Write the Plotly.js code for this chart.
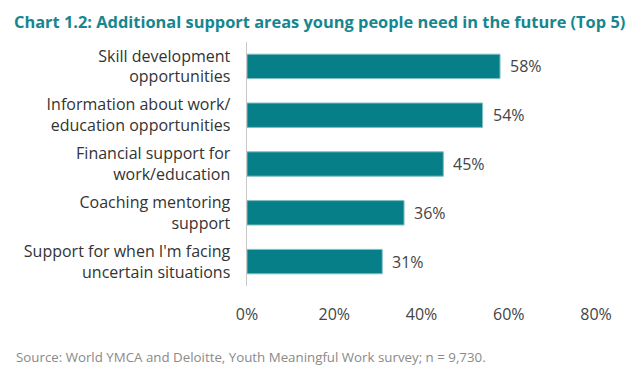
<!DOCTYPE html>
<html>
<head>
<meta charset="utf-8">
<script src="https://cdn.plot.ly/plotly-3.0.1.min.js"></script>
<style>html,body{margin:0;padding:0;background:#fff;}#chart{width:640px;height:378px;}</style>
</head>
<body>
<div id="chart"></div>
<script>
const categories = [
  "Skill development<br>opportunities",
  "Information about work/<br>education opportunities",
  "Financial support for<br>work/education",
  "Coaching mentoring<br>support",
  "Support for when I'm facing<br>uncertain situations"
];
const values = [58, 54, 45, 36, 31];
const tickValues = [0, 20, 40, 60, 80];
const tickLabels = ["0%", "20%", "40%", "60%", "80%"];
const titleText = "Chart 1.2: Additional support areas young people need in the future (Top 5)";
const sourceText = "Source: World YMCA and Deloitte, Youth Meaningful Work survey; n = 9,730.";

const L = 247, R = 44, T = 42, B = 92, W = 640, H = 378;
const plotW = W - L - R;

const trace = {
  type: 'bar',
  orientation: 'h',
  x: values,
  y: categories,
  width: 0.5,
  marker: {color: '#077f89', line: {color: '#7fbfc4', width: 1}},
  hoverinfo: 'none'
};

const labelAnnotations = values.map((v, i) => ({
  x: v, y: categories[i], xref: 'x', yref: 'y',
  text: v + '%', xanchor: 'left', yanchor: 'middle', xshift: 8,
  showarrow: false,
  font: {family: 'Open Sans', size: 16, color: '#444'}
}));

const layout = {
  width: W, height: H,
  margin: {l: L, r: R, t: T, b: B, pad: 0},
  paper_bgcolor: '#fff', plot_bgcolor: '#fff',
  showlegend: false,
  title: {
    text: '<b>' + titleText + '</b>',
    x: 14 / W, xanchor: 'left', xref: 'container',
    y: 1 - 22 / H, yanchor: 'middle', yref: 'container',
    font: {family: 'Open Sans', size: 16.4, color: '#16868f'}
  },
  xaxis: {
    range: [0, 80],
    tickvals: tickValues,
    ticktext: tickLabels,
    showgrid: false, zeroline: false, showline: false,
    ticks: 'outside', ticklen: 14, tickcolor: 'rgba(0,0,0,0)',
    tickfont: {family: 'Open Sans', size: 16, color: '#444'},
    fixedrange: true
  },
  yaxis: {
    autorange: 'reversed',
    showgrid: false, zeroline: false,
    showline: true, linecolor: '#c8c8c8', linewidth: 1.5,
    ticks: 'outside', ticklen: 12, tickcolor: 'rgba(0,0,0,0)',
    tickfont: {family: 'Open Sans', size: 16, color: '#333'},
    fixedrange: true
  },
  annotations: labelAnnotations.concat([{
    text: sourceText,
    xref: 'paper', yref: 'paper',
    x: (14 - L) / plotW, xanchor: 'left',
    y: -(357 - (H - B)) / (H - T - B), yanchor: 'middle',
    showarrow: false,
    font: {family: 'Open Sans', size: 13.3, color: '#8a8a8a'}
  }])
};

Plotly.newPlot('chart', [trace], layout, {displayModeBar: false, staticPlot: true});
</script>
</body>
</html>
